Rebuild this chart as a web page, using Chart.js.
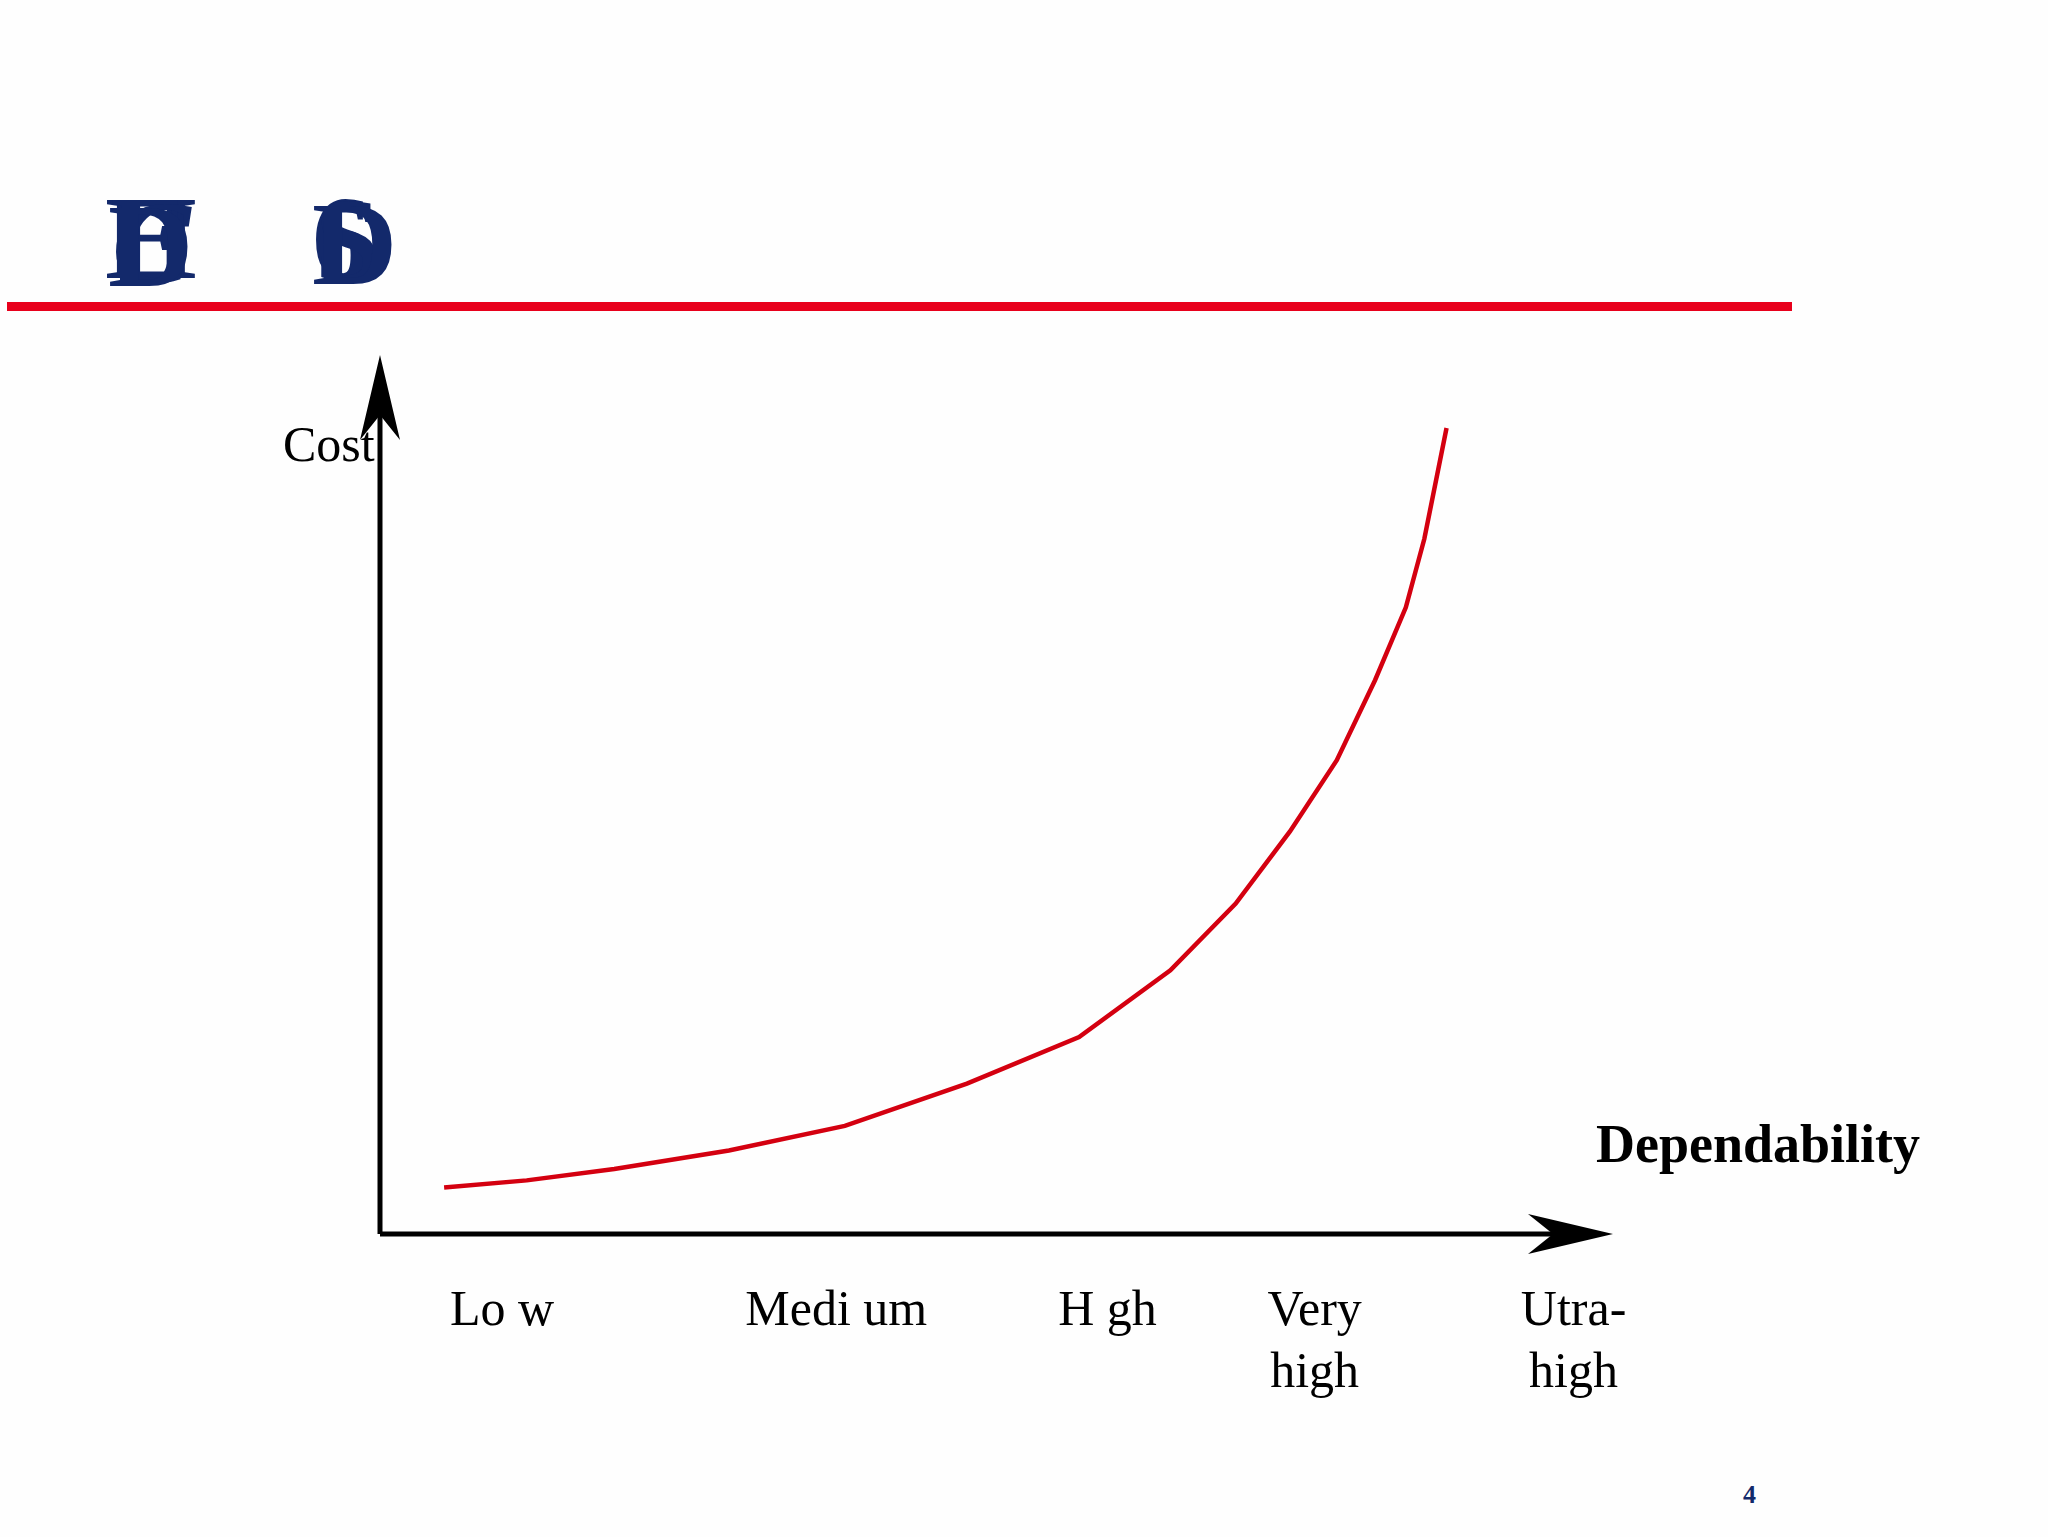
<!DOCTYPE html>
<html><head><meta charset="utf-8">
<script src="https://cdn.jsdelivr.net/npm/chart.js@4"></script>
<style>
html,body{margin:0;padding:0;background:#fefefe;width:2048px;height:1537px;overflow:hidden;font-family:"Liberation Serif",serif}
#wrap{position:absolute;left:0;top:0;width:2048px;height:1537px}
.t{position:absolute;color:#13296b;font-weight:bold;font-size:118px;font-family:"Liberation Serif",serif;line-height:1}
#rule{position:absolute;left:7px;top:302px;width:1785px;height:9px;background:#e8001c}
#pg{position:absolute;left:1743px;top:1480px;color:#13296b;font-size:26px;font-weight:bold}
</style></head><body>
<div class="t" style="left:105px;top:180px">H</div>
<div class="t" style="left:110px;top:180px">E</div>
<div class="t" style="left:112px;top:185px;font-style:italic">C</div>
<div class="t" style="left:108px;top:188px">D</div>
<div class="t" style="left:312px;top:180px">6</div>
<div class="t" style="left:315px;top:182px">S</div>
<div class="t" style="left:312px;top:186px">D</div>
<div id="rule"></div>
<div id="pg">4</div>
<div id="wrap"><canvas id="c" width="2048" height="1537"></canvas></div>
<script>
const xValues=[5.2,11.9,19.0,28.3,37.7,47.6,56.7,64.1,69.4,73.8,77.6,80.7,83.2,84.7,86.5];
const costValues=[5.3,6.1,7.4,9.5,12.3,17.1,22.4,30.0,37.6,45.8,53.9,63.0,71.3,79.1,91.7];
const tickPositions=[9.9,37,59,75.8,96.8];
const tickLabels=[["Lo w"],["Medi um"],["H gh"],["Very","high"],["Utra-","high"]];
const axisLabels={x:"Dependability",y:"Cost"};

const decor={id:'decor',afterDraw(chart){
  const ctx=chart.ctx,xs=chart.scales.x,ys=chart.scales.y;
  const x0=xs.getPixelForValue(0),y0=ys.getPixelForValue(0);
  const x1=xs.getPixelForValue(100),y1=ys.getPixelForValue(100);
  ctx.save();ctx.strokeStyle='#000';ctx.fillStyle='#000';ctx.lineWidth=5;
  ctx.beginPath();ctx.moveTo(x0,y0);ctx.lineTo(x0,y1+20);ctx.moveTo(x0,y0);ctx.lineTo(x1-20,y0);ctx.stroke();
  ctx.beginPath();ctx.moveTo(x0,y1);ctx.lineTo(x0-20,y1+85);ctx.lineTo(x0,y1+60);ctx.lineTo(x0+20,y1+85);ctx.closePath();ctx.fill();
  ctx.beginPath();ctx.moveTo(x1,y0);ctx.lineTo(x1-85,y0-20);ctx.lineTo(x1-60,y0);ctx.lineTo(x1-85,y0+20);ctx.closePath();ctx.fill();
  ctx.font='50px "Liberation Serif"';ctx.textBaseline='top';ctx.textAlign='left';
  tickPositions.forEach((v,i)=>{const px=xs.getPixelForValue(v);
    tickLabels[i].forEach((l,j)=>{const w=ctx.measureText(l).width;ctx.fillText(l,px-w/2,y0+53+j*62);});});
  ctx.textBaseline='middle';ctx.fillText(axisLabels.y,283,448);
  ctx.font='bold 54px "Liberation Serif"';ctx.fillText(axisLabels.x,1596,1148);
  ctx.restore();}};

new Chart(document.getElementById('c'),{type:'line',
 data:{datasets:[{data:xValues.map((x,i)=>({x,y:costValues[i]})),borderColor:'#d40010',borderWidth:4.5,pointRadius:0,tension:0}]},
 options:{responsive:false,animation:false,
  layout:{padding:{left:380,right:435,top:355,bottom:303}},
  plugins:{legend:{display:false},tooltip:{enabled:false}},
  scales:{x:{type:'linear',min:0,max:100,display:false},y:{min:0,max:100,display:false}}},
 plugins:[decor]});
</script></body></html>
